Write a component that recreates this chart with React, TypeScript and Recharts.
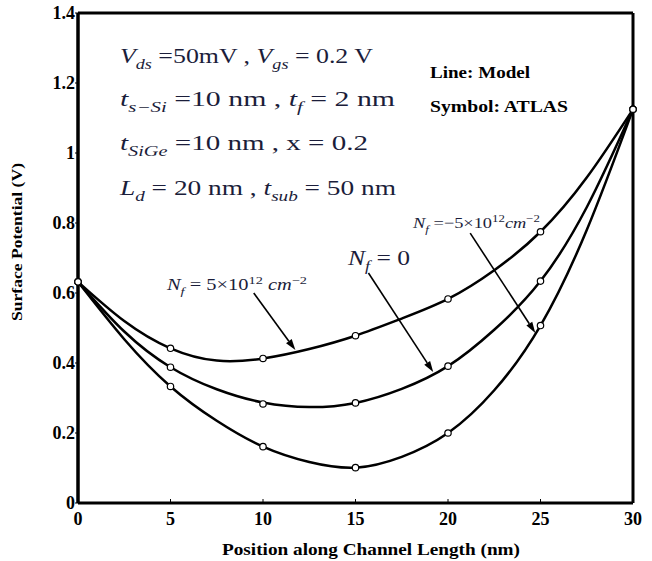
import { ComposedChart, Line, Scatter, XAxis, YAxis, ReferenceLine } from 'recharts'

// model curves (line), every 2.5 nm
const modelX = [0, 2.5, 5, 7.5, 10, 12.5, 15, 17.5, 20, 22.5, 25, 27.5, 30]
const modelPos = [0.632, 0.52, 0.442, 0.407, 0.413, 0.44, 0.478, 0.527, 0.583, 0.665, 0.775, 0.93, 1.125]
const modelZero = [0.632, 0.49, 0.388, 0.325, 0.287, 0.274, 0.286, 0.326, 0.391, 0.495, 0.634, 0.845, 1.125]
const modelNeg = [0.632, 0.468, 0.333, 0.235, 0.161, 0.117, 0.101, 0.132, 0.2, 0.322, 0.507, 0.78, 1.125]

// ATLAS symbols
const atlasX = [0, 5, 10, 15, 20, 25, 30]
const atlasPos = [0.632, 0.442, 0.413, 0.478, 0.583, 0.775, 1.125]
const atlasZero = [0.632, 0.388, 0.283, 0.286, 0.391, 0.634, 1.125]
const atlasNeg = [0.632, 0.333, 0.161, 0.101, 0.2, 0.507, 1.125]

const xTicks = [0, 5, 10, 15, 20, 25, 30]
const yTicks = [0, 0.2, 0.4, 0.6, 0.8, 1, 1.2, 1.4]

const toPoints = (xs: number[], ys: number[]) => xs.map((x, i) => ({ x, y: ys[i] }))

const SERIF = '"Liberation Serif", "DejaVu Serif", serif'
const INK = '#1b1d3a'

const XTick = ({ x, y, payload }: any) => (
  <g>
    <line x1={x} x2={x} y1={y} y2={y - 4} stroke="#000" strokeWidth={1} />
    <text x={x} y={y + 22} textAnchor="middle" fontFamily={SERIF} fontWeight="bold" fontSize={18} fill="#000">
      {payload.value}
    </text>
  </g>
)

const YTick = ({ x, y, payload }: any) => (
  <g>
    <line x1={x} x2={x - 3} y1={y} y2={y} stroke="#000" strokeWidth={1} />
    <text x={x - 3} y={y} dy="0.35em" textAnchor="end" fontFamily={SERIF} fontWeight="bold" fontSize={18} fill="#000">
      {payload.value}
    </text>
  </g>
)

const Dot = ({ cx, cy }: any) => <circle cx={cx} cy={cy} r={3.2} fill="#fff" stroke="#000" strokeWidth={1.2} />

const Arrow = (p: any) => {
  const { x1, y1, x2, y2 } = p
  const dx = x2 - x1
  const dy = y2 - y1
  const len = Math.sqrt(dx * dx + dy * dy)
  const ux = dx / len
  const uy = dy / len
  const bx = x2 - ux * 11
  const by = y2 - uy * 11
  return (
    <g>
      <line x1={x1} y1={y1} x2={bx} y2={by} stroke="#000" strokeWidth={1.6} />
      <polygon
        points={`${x2},${y2} ${bx - uy * 3.5},${by + ux * 3.5} ${bx + uy * 3.5},${by - ux * 3.5}`}
        fill="#000"
      />
    </g>
  )
}

type Seg = { t: string; i?: boolean; sub?: boolean; sup?: boolean }

// renders a run of text with italic / sub / sup parts
function MathText({ x, y, size, segs, width }: { x: number; y: number; size: number; segs: Seg[]; width?: number }) {
  let shift = 0
  return (
    <text x={x} y={y} fontFamily={SERIF} fontSize={size} fill={INK} textLength={width} lengthAdjust="spacingAndGlyphs">
      {segs.map((s, k) => {
        const target = s.sub ? size * 0.3 : s.sup ? -size * 0.4 : 0
        const d = target - shift
        shift = target
        return (
          <tspan key={k} dy={d} fontStyle={s.i ? 'italic' : 'normal'} fontSize={s.sub || s.sup ? size * 0.7 : size}>
            {s.t}
          </tspan>
        )
      })}
    </text>
  )
}

const line = { type: 'natural' as const, dataKey: 'y', stroke: '#000', strokeWidth: 2.5, dot: false, isAnimationActive: false }

export default function App() {
  return (
    <div style={{ position: 'absolute', left: 0, top: 0, width: 652, height: 561, background: '#fff' }}>
      <ComposedChart width={652} height={561} margin={{ top: 13, right: 19, bottom: 0, left: 18 }}>
        <XAxis
          type="number"
          dataKey="x"
          domain={[0, 30]}
          ticks={xTicks}
          height={58}
          tickSize={0}
          tickMargin={0}
          tickLine={false}
          tick={<XTick />}
          axisLine={{ stroke: '#000', strokeWidth: 3 }}
        />
        <YAxis
          type="number"
          domain={[0, 1.4]}
          ticks={yTicks}
          width={60}
          tickSize={0}
          tickMargin={0}
          tickLine={false}
          tick={<YTick />}
          axisLine={{ stroke: '#000', strokeWidth: 3.5 }}
        />
        <ReferenceLine y={1.4} stroke="#000" strokeWidth={3} />
        <ReferenceLine x={30} stroke="#000" strokeWidth={3} />
        <Line data={toPoints(modelX, modelPos)} {...line} />
        <Line data={toPoints(modelX, modelZero)} {...line} />
        <Line data={toPoints(modelX, modelNeg)} {...line} />
        <ReferenceLine segment={[{ x: 9.5, y: 0.6 }, { x: 11.75, y: 0.437 }]} shape={Arrow} />
        <ReferenceLine segment={[{ x: 15.7, y: 0.657 }, { x: 19.2, y: 0.374 }]} shape={Arrow} />
        <ReferenceLine segment={[{ x: 21.2, y: 0.771 }, { x: 24.72, y: 0.486 }]} shape={Arrow} />
        <Scatter data={toPoints(atlasX, atlasPos)} dataKey="y" shape={<Dot />} isAnimationActive={false} />
        <Scatter data={toPoints(atlasX, atlasZero)} dataKey="y" shape={<Dot />} isAnimationActive={false} />
        <Scatter data={toPoints(atlasX, atlasNeg)} dataKey="y" shape={<Dot />} isAnimationActive={false} />
      </ComposedChart>

      <svg width={652} height={561} style={{ position: 'absolute', left: 0, top: 0, pointerEvents: 'none' }}>
        <text
          transform="translate(22,242) rotate(-90)"
          textAnchor="middle"
          fontFamily={SERIF}
          fontWeight="bold"
          fontSize={15}
          fill="#000"
          textLength={158}
          lengthAdjust="spacingAndGlyphs"
        >
          Surface Potential (V)
        </text>
        <text
          x={222}
          y={555}
          fontFamily={SERIF}
          fontWeight="bold"
          fontSize={17}
          fill="#000"
          textLength={298}
          lengthAdjust="spacingAndGlyphs"
        >
          Position along Channel Length (nm)
        </text>

        <MathText x={120} y={63} size={21} width={253} segs={[
          { t: 'V', i: true }, { t: 'ds', i: true, sub: true }, { t: ' =50mV , ' },
          { t: 'V', i: true }, { t: 'gs', i: true, sub: true }, { t: ' = 0.2 V' },
        ]} />
        <MathText x={120} y={106} size={21} width={275} segs={[
          { t: 't', i: true }, { t: 's\u2212Si', i: true, sub: true }, { t: ' =10 nm , ' },
          { t: 't', i: true }, { t: 'f', i: true, sub: true }, { t: ' = 2 nm' },
        ]} />
        <MathText x={120} y={150} size={21} width={248} segs={[
          { t: 't', i: true }, { t: 'SiGe', i: true, sub: true }, { t: ' =10 nm , x = 0.2' },
        ]} />
        <MathText x={120} y={195} size={21} width={276} segs={[
          { t: 'L', i: true }, { t: 'd', i: true, sub: true }, { t: ' = 20 nm , ' },
          { t: 't', i: true }, { t: 'sub', i: true, sub: true }, { t: ' = 50 nm' },
        ]} />

        <text x={430} y={78} fontFamily={SERIF} fontWeight="bold" fontSize={16} fill="#000" textLength={100} lengthAdjust="spacingAndGlyphs">
          Line: Model
        </text>
        <text x={430} y={112} fontFamily={SERIF} fontWeight="bold" fontSize={16} fill="#000" textLength={138} lengthAdjust="spacingAndGlyphs">
          Symbol: ATLAS
        </text>

        <MathText x={167} y={290} size={16} width={140} segs={[
          { t: 'N', i: true }, { t: 'f', i: true, sub: true }, { t: ' = 5\u00d710' },
          { t: '12', sup: true }, { t: ' ' }, { t: 'cm', i: true }, { t: '\u22122', sup: true },
        ]} />
        <MathText x={348} y={265} size={20} width={62} segs={[
          { t: 'N', i: true }, { t: 'f', i: true, sub: true }, { t: ' = 0' },
        ]} />
        <MathText x={413} y={228} size={15} width={127} segs={[
          { t: 'N', i: true }, { t: 'f', i: true, sub: true }, { t: ' =\u22125\u00d710' },
          { t: '12', sup: true }, { t: 'cm', i: true }, { t: '\u22122', sup: true },
        ]} />
      </svg>
    </div>
  )
}
